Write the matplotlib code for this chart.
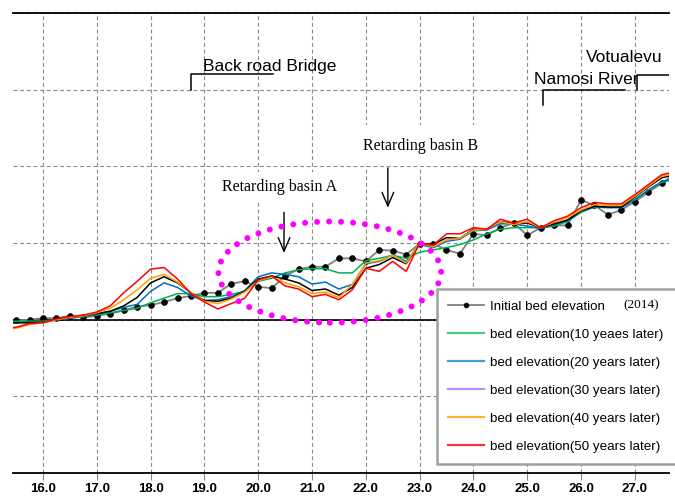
import numpy as np
import matplotlib
matplotlib.use("Agg")
import matplotlib.pyplot as plt
from matplotlib.lines import Line2D
from matplotlib.patches import Ellipse

# distance along the river (km)
km = [15.25, 15.5, 15.75, 16.0, 16.25, 16.5, 16.75, 17.0, 17.25, 17.5,
      17.75, 18.0, 18.25, 18.5, 18.75, 19.0, 19.25, 19.5, 19.75, 20.0,
      20.25, 20.5, 20.75, 21.0, 21.25, 21.5, 21.75, 22.0, 22.25, 22.5,
      22.75, 23.0, 23.25, 23.5, 23.75, 24.0, 24.25, 24.5, 24.75, 25.0,
      25.25, 25.5, 25.75, 26.0, 26.25, 26.5, 26.75, 27.0, 27.25, 27.5, 27.75]

# bed elevation (m, relative)
initial = [-0.02, -0.01, 0.00, 0.02, 0.02, 0.05, 0.03, 0.05, 0.08, 0.12,
           0.17, 0.19, 0.23, 0.28, 0.31, 0.35, 0.35, 0.47, 0.50, 0.43,
           0.41, 0.57, 0.66, 0.69, 0.69, 0.80, 0.80, 0.76, 0.91, 0.90,
           0.85, 0.99, 0.99, 0.91, 0.86, 1.12, 1.10, 1.20, 1.26, 1.10,
           1.20, 1.23, 1.23, 1.56, 1.49, 1.37, 1.43, 1.54, 1.66, 1.78, 1.90]
y10 = [-0.03, -0.02, -0.02, -0.02, 0.00, 0.02, 0.04, 0.06, 0.09, 0.12,
       0.15, 0.22, 0.28, 0.34, 0.34, 0.30, 0.30, 0.33, 0.37, 0.50,
       0.54, 0.61, 0.65, 0.665, 0.665, 0.61, 0.61, 0.77, 0.80, 0.84,
       0.80, 0.88, 0.91, 0.94, 0.98, 1.04, 1.12, 1.18, 1.20, 1.20,
       1.20, 1.22, 1.28, 1.40, 1.47, 1.47, 1.48, 1.57, 1.69, 1.79, 1.83]
y20 = [-0.04, -0.04, -0.035, -0.035, 0.00, 0.02, 0.04, 0.07, 0.11, 0.16,
       0.20, 0.37, 0.48, 0.42, 0.31, 0.25, 0.26, 0.30, 0.38, 0.56,
       0.61, 0.59, 0.56, 0.465, 0.49, 0.40, 0.46, 0.73, 0.76, 0.84,
       0.76, 0.98, 0.94, 1.02, 1.05, 1.16, 1.17, 1.25, 1.25, 1.22,
       1.19, 1.24, 1.29, 1.41, 1.47, 1.46, 1.46, 1.56, 1.69, 1.80, 1.85]
y30 = [-0.05, -0.04, -0.04, -0.035, 0.00, 0.03, 0.05, 0.08, 0.11, 0.18,
       0.29, 0.48, 0.56, 0.48, 0.35, 0.25, 0.24, 0.28, 0.37, 0.53,
       0.57, 0.53, 0.48, 0.38, 0.40, 0.32, 0.42, 0.67, 0.72, 0.81,
       0.73, 0.99, 0.98, 1.07, 1.06, 1.18, 1.18, 1.28, 1.25, 1.26,
       1.20, 1.25, 1.30, 1.42, 1.48, 1.47, 1.47, 1.60, 1.73, 1.85, 1.89]
y40 = [-0.12, -0.11, -0.065, -0.04, 0.00, 0.03, 0.05, 0.09, 0.15, 0.26,
       0.39, 0.54, 0.59, 0.49, 0.35, 0.24, 0.21, 0.27, 0.36, 0.51,
       0.56, 0.48, 0.43, 0.34, 0.36, 0.29, 0.46, 0.74, 0.77, 0.84,
       0.74, 1.00, 0.95, 1.04, 1.06, 1.17, 1.18, 1.28, 1.24, 1.28,
       1.20, 1.27, 1.33, 1.43, 1.50, 1.49, 1.49, 1.61, 1.74, 1.87, 1.91]
y50 = [-0.11, -0.10, -0.05, -0.04, 0.01, 0.04, 0.06, 0.10, 0.18, 0.35,
       0.50, 0.66, 0.68, 0.53, 0.34, 0.23, 0.14, 0.21, 0.28, 0.52,
       0.57, 0.44, 0.40, 0.30, 0.33, 0.26, 0.39, 0.67, 0.63, 0.76,
       0.63, 1.00, 0.97, 1.12, 1.12, 1.20, 1.18, 1.31, 1.26, 1.31,
       1.20, 1.29, 1.35, 1.46, 1.53, 1.51, 1.51, 1.63, 1.76, 1.89, 1.93]

xticks = [16, 17, 18, 19, 20, 21, 22, 23, 24, 25, 26, 27]
labels = ["Initial bed elevation",
          "bed elevation(10 yeaes later)",
          "bed elevation(20 years later)",
          "bed elevation(30 years later)",
          "bed elevation(40 years later)",
          "bed elevation(50 years later)"]

GREEN, BLUE, ORANGE, RED = "#00B050", "#0070C0", "#FFA000", "#FF0000"
PURPLE = "#A970FF"
SANS = "Liberation Sans"
SERIF = "Liberation Serif"

fig = plt.figure(figsize=(6.75, 4.97), dpi=100)
ax = fig.add_axes([13 / 675, 24 / 497, 656 / 675, 460 / 497])

ax.plot(km, initial, color="#808080", lw=1.3, marker="o", ms=4.2,
        mew=0.5, mfc="k", mec="k", zorder=2)
ax.plot(km, y10, color=GREEN, lw=1.1, zorder=2)
ax.plot(km, y20, color=BLUE, lw=1.1, zorder=2)
ax.plot(km, y30, color="k", lw=1.1, zorder=2)
ax.plot(km, y40, color=ORANGE, lw=1.1, zorder=2)
ax.plot(km, y50, color=RED, lw=1.1, zorder=2)

ax.axhline(0, color="k", lw=1.2, zorder=1.5)

ax.set_xlim(15.442, 27.636)
ax.set_ylim(-2, 4)
ax.set_xticks(xticks)
ax.set_xticklabels(["%.1f" % v for v in xticks])
ax.set_yticks([-2, -1, 0, 1, 2, 3, 4])
ax.tick_params(axis="y", length=0, labelleft=False)
ax.tick_params(axis="x", direction="out", length=5, width=0.8,
               color="#8a8a8a", pad=2.5)
for t in ax.get_xticklabels():
    t.set_family(SANS)
    t.set_fontsize(9.5)
    t.set_fontweight("bold")
ax.set_axisbelow(True)
ax.grid(True, color="#8a8a8a", linestyle=(0, (3.5, 2.5)), linewidth=0.8)
for side in ("left", "right"):
    ax.spines[side].set_visible(False)
for side in ("top", "bottom"):
    ax.spines[side].set_linewidth(1.3)

# site brackets
ax.plot([18.76, 18.76, 20.27], [3.0, 3.21, 3.21], color="k", lw=1.1)
ax.text(18.97, 3.25, "Back road Bridge", family=SANS, fontsize=12.5,
        va="baseline")
ax.plot([25.29, 25.29, 26.82], [2.80, 3.0, 3.0], color="k", lw=1.1)
ax.text(25.13, 3.07, "Namosi River", family=SANS, fontsize=12.5,
        va="baseline")
ax.plot([27.04, 27.04, 27.8], [3.0, 3.19, 3.19], color="k", lw=1.1)
ax.text(26.09, 3.36, "Votualevu", family=SANS, fontsize=12.5,
        va="baseline")

# retarding basins
ax.text(20.405, 1.73, "Retarding basin A", family=SERIF, fontsize=11.5,
        ha="center", va="center", zorder=3,
        bbox=dict(fc="white", ec="none", pad=5))
ax.text(23.02, 2.27, "Retarding basin B", family=SERIF, fontsize=11.5,
        ha="center", va="center", zorder=3,
        bbox=dict(fc="white", ec="none", pad=9))
arrow = dict(arrowstyle="->,head_length=0.7,head_width=0.3", lw=1.0,
             color="k", mutation_scale=14, shrinkA=0, shrinkB=0)
ax.annotate("", xy=(20.48, 0.87), xytext=(20.48, 1.40), arrowprops=arrow)
ax.annotate("", xy=(22.41, 1.46), xytext=(22.41, 1.98), arrowprops=arrow)

ring = Ellipse((21.33, 0.62), 4.14, 1.32, fill=False, ec="#FF00FF",
               lw=4.3, linestyle=(0, (0.01, 2.0)), capstyle="round",
               zorder=4)
ax.add_patch(ring)

handles = [Line2D([], [], color="#808080", lw=1.3, marker="o", ms=3.5,
                  mew=0.5, mfc="k", mec="k"),
           Line2D([], [], color=GREEN, lw=1.6, alpha=0.7),
           Line2D([], [], color=BLUE, lw=1.6, alpha=0.7),
           Line2D([], [], color=PURPLE, lw=1.6, alpha=0.8),
           Line2D([], [], color=ORANGE, lw=1.6, alpha=0.8),
           Line2D([], [], color=RED, lw=1.6, alpha=0.8)]
leg = ax.legend(handles, labels, loc="upper left",
                bbox_to_anchor=(437 / 675, 0.0, 250 / 675, 1 - 289 / 497),
                bbox_transform=fig.transFigure, mode="expand",
                borderaxespad=0, prop=dict(family=SANS, size=9.6),
                labelspacing=1.18, handlelength=2.7, handletextpad=0.45,
                borderpad=0.85, fancybox=False, framealpha=1)
leg.get_frame().set_edgecolor("#a0a0a0")
leg.get_frame().set_linewidth(1.8)
leg.set_zorder(5)
fig.text(623 / 675, 1 - 305 / 497, "(2014)", family=SERIF, fontsize=9.5,
         va="center", zorder=6)

fig.savefig("out.png", dpi=100)
